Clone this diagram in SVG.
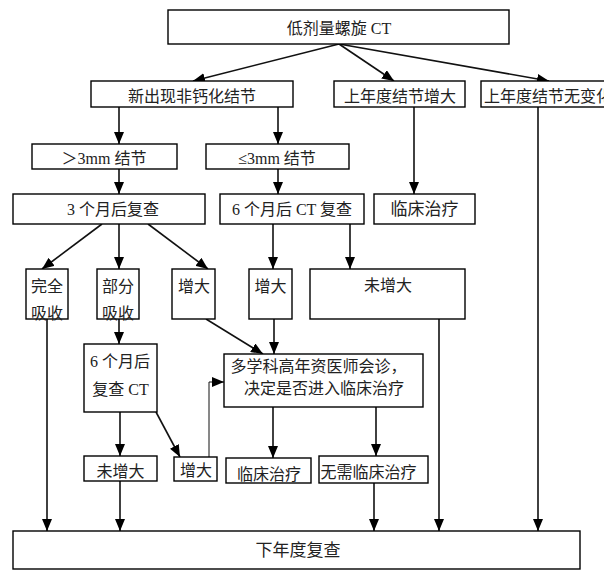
<svg xmlns="http://www.w3.org/2000/svg" width="604" height="579" viewBox="0 0 604 579">
<defs>
<style>
.box{fill:#fff;stroke:#000;stroke-width:1.4}
text{font-family:"Liberation Serif","Noto Sans CJK SC",serif;font-size:16px;fill:#222;text-anchor:middle}
.edge{fill:none;stroke:#111;stroke-width:1.6}
.thin{fill:none;stroke:#111;stroke-width:1}
</style>
<marker id="ah" viewBox="0 0 12 10" refX="12" refY="5" markerWidth="12" markerHeight="10" markerUnits="userSpaceOnUse" orient="auto">
<path d="M0,0 L12,5 L0,10 z" fill="#000"/>
</marker>
</defs>
<rect width="604" height="579" fill="#fff"/>
<g id="connectors">
<path class="edge" d="M339,44 L193,81" marker-end="url(#ah)"/>
<path class="edge" d="M339,44 L394,81" marker-end="url(#ah)"/>
<path class="edge" d="M339,44 L549,81" marker-end="url(#ah)"/>
<path class="edge" d="M119,107 V144" marker-end="url(#ah)"/>
<path class="edge" d="M278,107 V144" marker-end="url(#ah)"/>
<path class="edge" d="M414,107 V194" marker-end="url(#ah)"/>
<path class="edge" d="M538,107 V531" marker-end="url(#ah)"/>
<path class="edge" d="M119,169 V194" marker-end="url(#ah)"/>
<path class="edge" d="M278,169 V194" marker-end="url(#ah)"/>
<path class="edge" d="M102,224 L42,269" marker-end="url(#ah)"/>
<path class="edge" d="M119,224 V269" marker-end="url(#ah)"/>
<path class="edge" d="M148,224 L208,269" marker-end="url(#ah)"/>
<path class="edge" d="M273,224 V269" marker-end="url(#ah)"/>
<path class="edge" d="M350,224 V269" marker-end="url(#ah)"/>
<path class="edge" d="M47,319 V531" marker-end="url(#ah)"/>
<path class="edge" d="M119,319 V344" marker-end="url(#ah)"/>
<path class="edge" d="M206,319 L263,354" marker-end="url(#ah)"/>
<path class="edge" d="M274,319 V354" marker-end="url(#ah)"/>
<path class="edge" d="M439,319 V531" marker-end="url(#ah)"/>
<path class="edge" d="M120,412 V456" marker-end="url(#ah)"/>
<path class="edge" d="M156,412 L180,457" marker-end="url(#ah)"/>
<path class="thin" d="M209,457 V382 H224" marker-end="url(#ah)"/>
<path class="edge" d="M273,407 V458" marker-end="url(#ah)"/>
<path class="edge" d="M376,407 V456" marker-end="url(#ah)"/>
<path class="edge" d="M120,481 V531" marker-end="url(#ah)"/>
<path class="edge" d="M374,483 V531" marker-end="url(#ah)"/>
</g>
<g id="n-top"><rect class="box" x="168" y="10" width="341" height="34"/><text x="339" y="33.5">低剂量螺旋 CT</text></g>
<g id="n-new"><rect class="box" x="91" y="81" width="202" height="26"/><text x="192" y="102">新出现非钙化结节</text></g>
<g id="n-grow"><rect class="box" x="334" y="81" width="131" height="26"/><text x="400" y="102">上年度结节增大</text></g>
<g id="n-nochange"><rect class="box" x="481" y="81" width="140" height="26"/><text x="484" y="102" style="text-anchor:start">上年度结节无变化</text></g>
<g id="n-gt3"><rect class="box" x="32" y="144" width="145" height="25"/><text x="104" y="164">＞3mm 结节</text></g>
<g id="n-le3"><rect class="box" x="206" y="144" width="143" height="25"/><text x="277" y="164">≤3mm 结节</text></g>
<g id="n-3m"><rect class="box" x="13" y="194" width="192" height="30"/><text x="113" y="215">3 个月后复查</text></g>
<g id="n-6mct"><rect class="box" x="220" y="194" width="144" height="30"/><text x="292" y="215">6 个月后 CT 复查</text></g>
<g id="n-clin1"><rect class="box" x="374" y="194" width="101" height="30"/><text x="424.5" y="215" style="font-size:17px">临床治疗</text></g>
<g id="n-full"><rect class="box" x="26" y="269" width="42" height="50"/><text x="47" y="292">完全</text><text x="47" y="319">吸收</text></g>
<g id="n-part"><rect class="box" x="97" y="269" width="42" height="50"/><text x="118" y="292">部分</text><text x="118" y="319">吸收</text></g>
<g id="n-inc1"><rect class="box" x="172" y="269" width="43" height="50"/><text x="194" y="292">增大</text></g>
<g id="n-inc2"><rect class="box" x="249" y="269" width="43" height="50"/><text x="270.5" y="292">增大</text></g>
<g id="n-noinc1"><rect class="box" x="310" y="269" width="155" height="50"/><text x="388" y="291">未增大</text></g>
<g id="n-6m"><rect class="box" x="84" y="344" width="73" height="68"/><text x="120" y="367">6 个月后</text><text x="120.5" y="395">复查 CT</text></g>
<g id="n-mdt"><rect class="box" x="224" y="354" width="199" height="53"/><text x="318.5" y="372">多学科高年资医师会诊，</text><text x="324" y="394">决定是否进入临床治疗</text></g>
<g id="n-noinc2"><rect class="box" x="84" y="456" width="73" height="25"/><text x="120.5" y="477">未增大</text></g>
<g id="n-inc3"><rect class="box" x="174" y="457" width="43" height="24"/><text x="196" y="476">增大</text></g>
<g id="n-clin2"><rect class="box" x="226" y="458" width="85" height="25"/><text x="269" y="480">临床治疗</text></g>
<g id="n-noclin"><rect class="box" x="319" y="456" width="109" height="27"/><text x="368.5" y="478">无需临床治疗</text></g>
<g id="n-next"><rect class="box" x="13" y="531" width="567" height="38"/><text x="298" y="556" style="font-size:17px">下年度复查</text></g>
</svg>
